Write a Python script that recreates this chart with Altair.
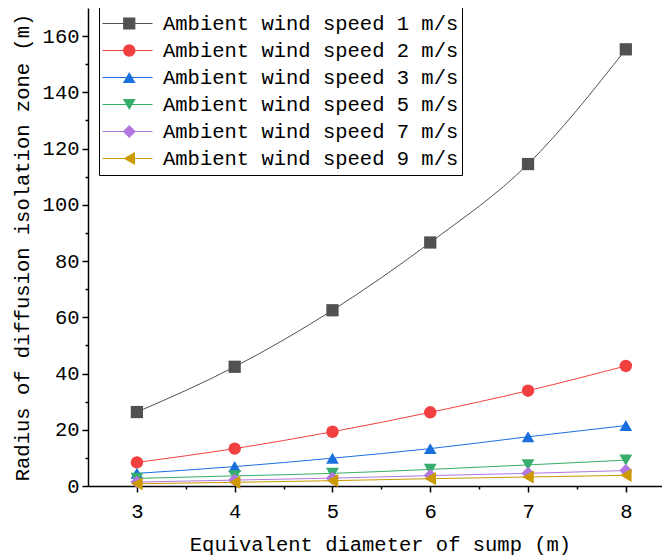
import altair as alt
import pandas as pd

diameters = [3, 4, 5, 6, 7, 8]
series_names = [
    "Ambient wind speed 1 m/s",
    "Ambient wind speed 2 m/s",
    "Ambient wind speed 3 m/s",
    "Ambient wind speed 5 m/s",
    "Ambient wind speed 7 m/s",
    "Ambient wind speed 9 m/s",
]
speed_1 = [26.3, 42.4, 62.5, 86.6, 114.5, 155.3]
speed_2 = [8.4, 13.3, 19.3, 26.2, 33.9, 42.7]
speed_3 = [4.5, 6.9, 9.9, 13.3, 17.5, 21.5]
speed_5 = [2.7, 3.6, 4.5, 5.9, 7.5, 9.2]
speed_7 = [1.4, 2.1, 2.8, 3.7, 4.5, 5.5]
speed_9 = [0.8, 1.3, 1.9, 2.6, 3.2, 3.8]
colors = ["#515151", "#F14040", "#1A6FDF", "#37AD6B", "#B177DE", "#CC9900"]
shapes = ["square", "circle", "triangle-up", "triangle-down", "diamond", "triangle-left"]
marker_sizes = [150, 175, 250, 250, 210, 250]

x_ticks = [3, 3.5, 4, 4.5, 5, 5.5, 6, 6.5, 7, 7.5, 8]
y_ticks = list(range(0, 170, 10))

rows = []
for name, vals in zip(series_names, [speed_1, speed_2, speed_3, speed_5, speed_7, speed_9]):
    for d, v in zip(diameters, vals):
        rows.append({"d": d, "r": v, "series": name})
df = pd.DataFrame(rows)

FONT = "Liberation Mono"
FS = 20.5

x_enc = alt.X(
    "d:Q",
    scale=alt.Scale(domain=[2.5, 8.37], nice=False, zero=False),
    axis=alt.Axis(
        title="Equivalent diameter of sump (m)",
        values=x_ticks,
        labelExpr="datum.value % 1 == 0 ? format(datum.value, 'd') : ''",
        tickSize={"condition": {"test": "datum.value % 1 == 0", "value": 6}, "value": 3},
        grid=False,
        labelOverlap=False,
        labelFlush=False,
        labelPadding=9,
        titlePadding=13,
        titleX=292,
    ),
)
y_enc = alt.Y(
    "r:Q",
    scale=alt.Scale(domain=[0, 170], nice=False),
    axis=alt.Axis(
        title="Radius of diffusion isolation zone (m)",
        values=y_ticks,
        labelExpr="datum.value % 20 == 0 ? format(datum.value, 'd') : ''",
        tickSize={"condition": {"test": "datum.value % 20 == 0", "value": 6}, "value": 3},
        grid=False,
        labelOverlap=False,
        labelFlush=False,
        labelPadding=3,
        titlePadding=10,
    ),
)

color_scale = alt.Scale(domain=series_names, range=colors)
shape_scale = alt.Scale(domain=series_names, range=shapes)
size_scale = alt.Scale(domain=series_names, range=marker_sizes)

line_legend = alt.Legend(
    title=None,
    orient="none",
    legendX=11,
    legendY=-1,
    symbolType="stroke",
    symbolSize=2500,
    symbolStrokeWidth=1,
    clipHeight=27,
    rowPadding=0,
    padding=3,
    labelOffset=10,
    labelLimit=500,
    labelFont=FONT,
    labelFontSize=FS,
    labelColor="#000000",
    strokeColor="#000000",
    fillColor="#ffffff",
)
marker_legend = alt.Legend(
    title=None,
    orient="none",
    legendX=11,
    legendY=-1,
    symbolStrokeWidth=0,
    symbolOffset=17,
    clipHeight=27,
    rowPadding=0,
    padding=3,
    labelOffset=10,
    labelLimit=500,
    labelFont=FONT,
    labelFontSize=FS,
    labelExpr="''",
)

lines = alt.Chart(df).mark_line(strokeWidth=1, interpolate="monotone").encode(
    x=x_enc,
    y=y_enc,
    color=alt.Color("series:N", scale=color_scale, sort=series_names, legend=line_legend),
)
points = alt.Chart(df).mark_point(filled=True, opacity=1).encode(
    x=x_enc,
    y=y_enc,
    color=alt.Color("series:N", scale=color_scale, sort=series_names, legend=marker_legend),
    shape=alt.Shape("series:N", scale=shape_scale, sort=series_names, legend=marker_legend),
    size=alt.Size("series:N", scale=size_scale, sort=series_names, legend=marker_legend),
)

chart = (
    alt.layer(lines, points)
    .resolve_legend(color="independent", shape="independent", size="independent")
    .properties(
        width=574,
        height=478,
        autosize=alt.AutoSizeParams(type="none"),
        padding={"left": 80, "top": 0, "right": 0, "bottom": 70},
        background="#ffffff",
    )
    .configure_view(stroke=None)
    .configure_axis(
        domainColor="#000000",
        domainWidth=1.5,
        tickColor="#000000",
        tickWidth=1.5,
        labelFont=FONT,
        labelFontSize=FS,
        labelColor="#000000",
        titleFont=FONT,
        titleFontSize=FS,
        titleFontWeight="normal",
        titleColor="#000000",
    )
)

chart.save("out.html", embed_options={"renderer": "svg", "actions": False})
